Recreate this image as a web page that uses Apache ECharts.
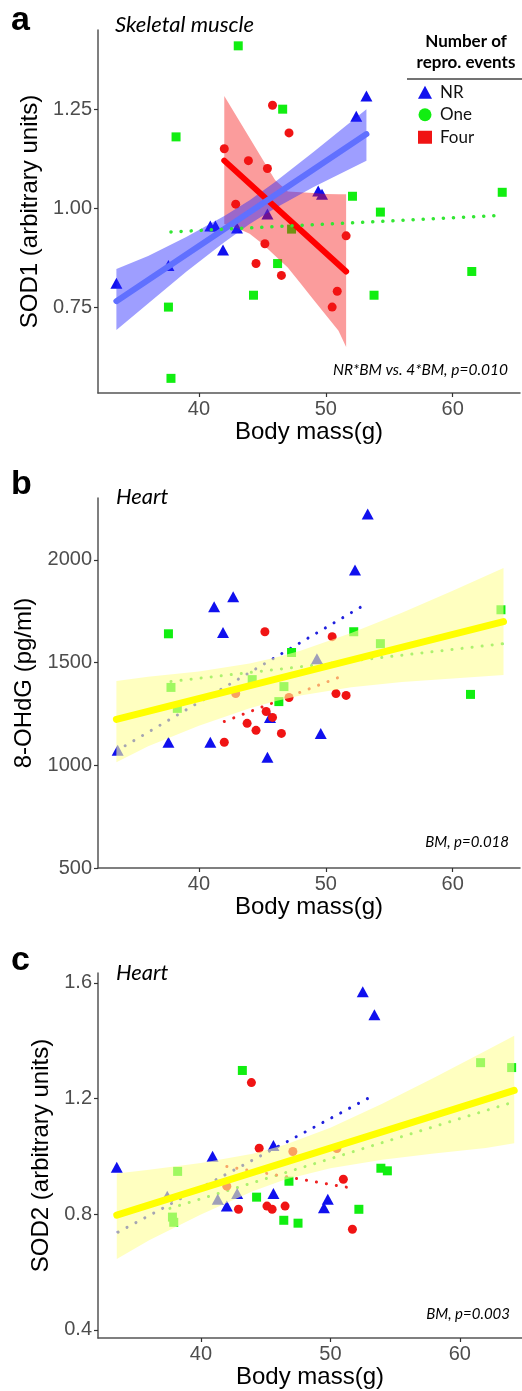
<!DOCTYPE html>
<html>
<head>
<meta charset="utf-8">
<script src="https://cdn.jsdelivr.net/npm/echarts@6/dist/echarts.min.js"></script>
<style>
  html, body { margin: 0; padding: 0; background: #fff; }
  #chart { width: 522px; height: 1391px; }
</style>
</head>
<body>
<div id="chart"></div>
<script>
// ticks
const xTicks = [40, 50, 60];
const sod1Ticks = [0.75, 1.00, 1.25];
const ohdgTicks = [500, 1000, 1500, 2000];
const sod2Ticks = [0.4, 0.8, 1.2, 1.6];

// panel a - SOD1 skeletal muscle  [body mass, value]
const sod1NR = [[33.5,0.81],[37.6,0.855],[40.9,0.955],[41.3,0.955],[41.9,0.894],[43.0,0.95],[45.4,0.985],[49.4,1.043],[49.7,1.035],[52.4,1.232],[53.2,1.283]];
const sod1One = [[43.1,1.41],[38.2,1.18],[37.6,0.75],[37.8,0.57],[46.6,1.25],[52.1,1.03],[54.3,0.99],[63.9,1.04],[47.3,0.947],[46.2,0.86],[44.3,0.78],[53.8,0.78],[61.5,0.84]];
const sod1Four = [[42.0,1.15],[43.9,1.12],[45.4,1.10],[42.9,1.01],[45.8,1.26],[47.1,1.19],[51.6,0.93],[45.2,0.91],[44.5,0.86],[46.5,0.83],[50.9,0.79],[50.5,0.75]];
const sod1LineNR = [[33.5,0.765],[53.2,1.187]];
const sod1LineFour = [[42.0,1.12],[51.6,0.84]];
const sod1LineOne = [[37.8,0.94],[64.0,0.982]];
// [x, lower, upper]
const sod1BandNR = [[33.5,0.692,0.846],[36,0.759,0.879],[39,0.839,0.927],[42,0.914,0.98],[44,0.96,1.02],[46,1.0,1.066],[49,1.053,1.141],[53.2,1.12,1.25]];
const sod1BandFour = [[42,0.96,1.283],[43,0.95,1.23],[44,0.935,1.177],[45,0.91,1.124],[46,0.88,1.071],[47,0.85,1.042],[48,0.81,1.04],[49,0.77,1.038],[50,0.73,1.036],[51,0.69,1.035],[51.6,0.649,1.035]];

// panel b - 8-OHdG heart
const ohdgNR = [[41.2,1772],[42.7,1820],[41.9,1646],[53.3,2223],[52.3,1951],[33.6,1073],[37.6,1112],[40.9,1112],[45.4,1039],[45.6,1233],[49.6,1155],[49.3,1519]];
const ohdgOne = [[37.6,1640],[63.8,1757],[52.2,1650],[47.3,1549],[54.3,1592],[61.4,1345],[46.7,1383],[46.3,1310],[44.2,1417],[37.8,1379],[38.3,1277]];
const ohdgFour = [[45.2,1650],[50.5,1626],[42.0,1112],[43.8,1204],[44.5,1170],[45.3,1262],[45.8,1233],[50.8,1349],[51.6,1340],[46.5,1155],[47.1,1330],[42.9,1349]];
const ohdgLineAll = [[33.5,1223],[64,1699]];
const ohdgLineNR = [[33.5,1070],[53.3,1790]];
const ohdgLineOne = [[37.8,1408],[64,1592]];
const ohdgLineFour = [[42,1213],[51.2,1432]];
const ohdgBand = [[33.5,1015,1410],[36,1093,1431],[40,1192,1456],[44,1278,1496],[46,1312,1524],[48,1340,1558],[52,1380,1644],[56,1405,1743],[60,1422,1850],[64,1440,1960]];

// panel c - SOD2 heart
const sod2NR = [[52.5,1.569],[53.4,1.49],[33.5,0.962],[40.9,1.0],[42.0,0.828],[37.4,0.862],[41.3,0.852],[42.8,0.872],[45.6,1.038],[45.6,0.872],[49.8,0.852],[49.5,0.822]];
const sod2One = [[43.2,1.297],[61.6,1.324],[64.0,1.307],[38.2,0.948],[37.8,0.79],[37.9,0.772],[44.3,0.859],[53.9,0.959],[54.4,0.95],[46.8,0.914],[52.2,0.817],[46.4,0.779],[47.5,0.769]];
const sod2Four = [[43.9,1.255],[44.5,1.028],[42.9,0.817],[45.1,0.828],[45.5,0.817],[46.5,0.828],[51.0,0.921],[51.7,0.748],[47.1,1.017],[42.0,0.897],[50.5,1.027]];
const sod2LineAll = [[33.5,0.797],[64.2,1.228]];
const sod2LineNR = [[33.6,0.738],[53.0,1.203]];
const sod2LineOne = [[37.6,0.82],[64.0,1.186]];
const sod2LineFour = [[42.0,0.965],[51.7,0.89]];
const sod2Band = [[33.5,0.645,0.941],[36,0.71,0.954],[40,0.799,0.977],[44,0.879,1.009],[46.5,0.92,1.04],[50,0.959,1.099],[54,0.988,1.182],[58,1.01,1.272],[62,1.029,1.365],[64.2,1.045,1.417]];

const BLUE = '#1010ee', GREEN = '#11ee11', RED = '#f01414';
const AX = 'Liberation Sans', TXT = 'Lato';

function xAx(i, max) {
  return {
    gridIndex: i, type: 'value', min: 32.05, max: max,
    axisLine: { show: true, onZero: false, lineStyle: { color: '#555', width: 1.5 } },
    axisTick: { show: true, length: 4, customValues: xTicks, lineStyle: { color: '#333', width: 1.2 } },
    axisLabel: { customValues: xTicks, color: '#4d4d4d', fontSize: 20, margin: 6, fontFamily: AX },
    splitLine: { show: false },
    name: 'Body mass(g)', nameLocation: 'middle', nameGap: i === 0 ? 23 : 27,
    nameTextStyle: { fontSize: 24, color: '#000', fontFamily: AX }
  };
}
function yAx(i, min, max, ticks, dec, name, gap) {
  return {
    gridIndex: i, type: 'value', min: min, max: max,
    axisLine: { show: true, onZero: false, lineStyle: { color: '#555', width: 1.5 } },
    axisTick: { show: true, length: 4, customValues: ticks, lineStyle: { color: '#333', width: 1.2 } },
    axisLabel: { customValues: ticks, color: '#4d4d4d', fontSize: 20, margin: 6, fontFamily: AX,
      formatter: v => dec == null ? String(v) : v.toFixed(dec) },
    splitLine: { show: false },
    name: name, nameLocation: 'middle', nameGap: gap,
    nameTextStyle: { fontSize: 24, color: '#000', fontFamily: AX }
  };
}
function pts(i, name, data) {
  const sym = { NR: 'triangle', One: 'rect', Four: 'circle' }[name];
  const col = { NR: BLUE, One: GREEN, Four: RED }[name];
  return { type: 'scatter', name: name, xAxisIndex: i, yAxisIndex: i, data: data, z: 2,
    symbol: sym, symbolSize: name === 'NR' ? [12, 11] : 9, itemStyle: { color: col, opacity: 1 } };
}
function line(i, data, color, width, dotted, z) {
  return { type: 'line', xAxisIndex: i, yAxisIndex: i, data: data, symbol: 'none', z: z, silent: true,
    lineStyle: { color: color, width: width, type: dotted ? [0.1, 10] : 'solid', cap: 'round' } };
}
function band(i, b, fill, z) {
  return {
    type: 'custom', xAxisIndex: i, yAxisIndex: i, data: b, z: z, silent: true,
    encode: { x: 0, y: [1, 2] },
    renderItem: function (params, api) {
      if (params.dataIndex !== 0) return;
      const top = b.map(d => api.coord([d[0], d[2]]));
      const bot = b.map(d => api.coord([d[0], d[1]])).reverse();
      return { type: 'polygon', shape: { points: top.concat(bot) }, style: { fill: fill } };
    }
  };
}
function txt(x, y, s, font, align) {
  return { type: 'text', x: x, y: y, silent: true,
    style: { text: s, font: font, fill: '#000', align: align || 'left', verticalAlign: 'middle' } };
}

const chart = echarts.init(document.getElementById('chart'));
chart.setOption({
  animation: false,
  grid: [
    { left: 98, top: 30, width: 422, height: 363 },
    { left: 98, top: 498, width: 422, height: 370 },
    { left: 98, top: 973, width: 424, height: 365 }
  ],
  xAxis: [xAx(0, 65.3), xAx(1, 65.3), xAx(2, 64.8)],
  yAxis: [
    yAx(0, 0.533, 1.45, sod1Ticks, 2, 'SOD1 (arbitrary units)', 50),
    yAx(1, 500, 2301, ohdgTicks, null, '8-OHdG (pg/ml)', 58),
    yAx(2, 0.372, 1.634, sod2Ticks, 1, 'SOD2 (arbitrary units)', 38)
  ],
  legend: {
    left: 413, top: 77, orient: 'vertical', selectedMode: false,
    itemWidth: 14, itemHeight: 13, itemGap: 2,
    textStyle: { fontFamily: TXT, fontSize: 17, color: '#111', lineHeight: 20.5, padding: [0, 0, 0, 3] },
    data: [{ name: 'NR', icon: 'triangle' }, { name: 'One', icon: 'circle' }, { name: 'Four', icon: 'rect' }]
  },
  graphic: [
    txt(11, 21, 'a', 'bold 34px "Liberation Sans"'),
    txt(11, 485, 'b', 'bold 34px "Liberation Sans"'),
    txt(11, 961, 'c', 'bold 34px "Liberation Sans"'),
    txt(115, 25, 'Skeletal muscle', 'italic 22px Lato'),
    txt(116, 497, 'Heart', 'italic 22px Lato'),
    txt(116, 973, 'Heart', 'italic 22px Lato'),
    txt(508, 370, 'NR*BM vs. 4*BM, p=0.010', 'italic 15.5px Lato', 'right'),
    txt(509, 842, 'BM, p=0.018', 'italic 15px Lato', 'right'),
    txt(510, 1314, 'BM, p=0.003', 'italic 15px Lato', 'right'),
    txt(466, 42, 'Number of', 'bold 17px Lato', 'center'),
    txt(466, 63, 'repro. events', 'bold 17px Lato', 'center'),
    { type: 'line', silent: true, shape: { x1: 407, y1: 79, x2: 522, y2: 79 }, style: { stroke: '#444', lineWidth: 1.5 } }
  ],
  series: [
    // a
    pts(0, 'NR', sod1NR), pts(0, 'One', sod1One), pts(0, 'Four', sod1Four),
    band(0, sod1BandFour, 'rgba(245,20,20,0.42)', 3),
    band(0, sod1BandNR, 'rgba(40,40,255,0.45)', 3),
    line(0, sod1LineFour, '#ff0000', 6, false, 4),
    line(0, sod1LineNR, '#6070ff', 6, false, 4),
    line(0, sod1LineOne, '#33e633', 3.5, true, 5),
    // b
    pts(1, 'NR', ohdgNR), pts(1, 'One', ohdgOne), pts(1, 'Four', ohdgFour),
    line(1, ohdgLineNR, '#2020dd', 3, true, 2),
    line(1, ohdgLineOne, '#33dd33', 3, true, 2),
    line(1, ohdgLineFour, '#ee2222', 3, true, 2),
    band(1, ohdgBand, 'rgba(255,255,150,0.6)', 3),
    line(1, ohdgLineAll, '#ffff00', 7, false, 4),
    // c
    pts(2, 'NR', sod2NR), pts(2, 'One', sod2One), pts(2, 'Four', sod2Four),
    line(2, sod2LineNR, '#2020dd', 3, true, 2),
    line(2, sod2LineOne, '#33dd33', 3, true, 2),
    line(2, sod2LineFour, '#ee2222', 3, true, 2),
    band(2, sod2Band, 'rgba(255,255,150,0.6)', 3),
    line(2, sod2LineAll, '#ffff00', 7, false, 4)
  ]
});
</script>
</body>
</html>
